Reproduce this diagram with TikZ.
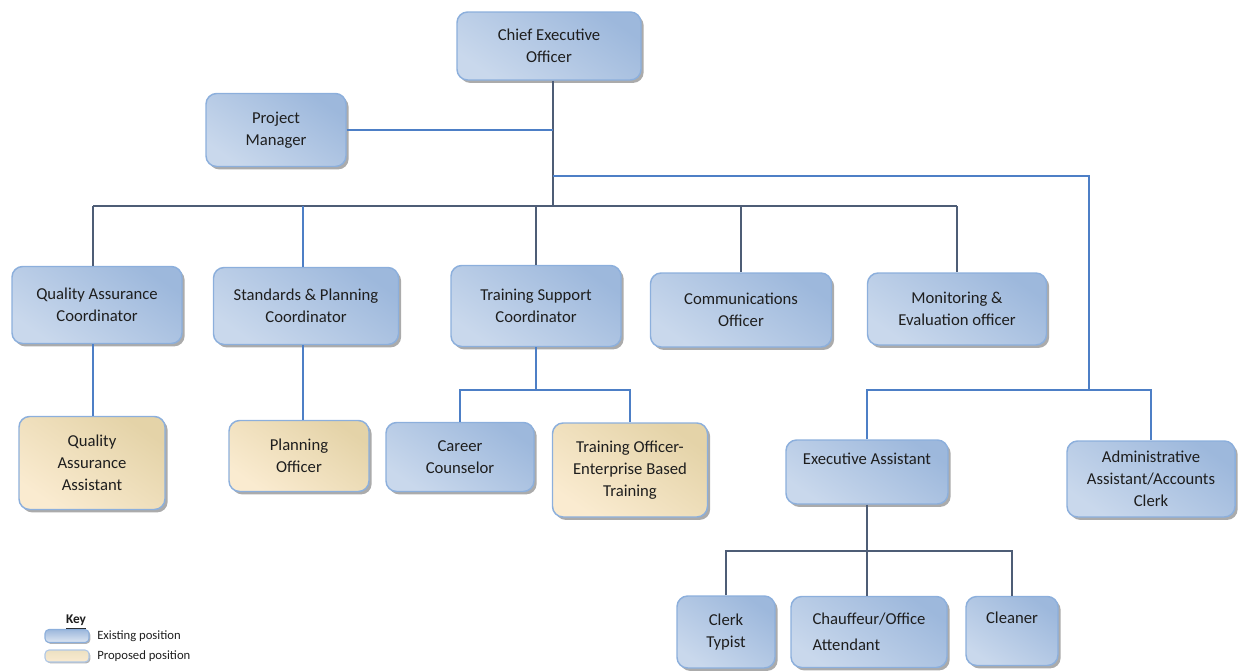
\documentclass[tikz,border=0pt]{standalone}
\usepackage{fontspec}
\setmainfont{Carlito}
\usetikzlibrary{shadows}
\definecolor{bdark}{HTML}{9DB8DC}
\definecolor{bmid}{HTML}{DDE6F2}
\definecolor{blight}{HTML}{C9D8EC}
\definecolor{bborder}{HTML}{8CAFDC}
\definecolor{ydark}{HTML}{E4D3A8}
\definecolor{ymid}{HTML}{F1E9D6}
\definecolor{ylight}{HTML}{FAEBD0}
\definecolor{lblue}{HTML}{4D7FC6}
\definecolor{ldark}{HTML}{4E5D76}
\definecolor{txt}{HTML}{1E1E1E}
\tikzset{
  sz/.style 2 args={minimum width=#1*0.75pt, minimum height=#2*0.75pt},
  posbox/.style={draw=bborder, line width=1.1pt, rounded corners=8pt, align=center,
    font=\fontsize{12.5}{16.5}\selectfont, text=txt, inner sep=1pt,
    drop shadow={shadow xshift=2pt, shadow yshift=-2.2pt, fill=black!55, opacity=0.6}},
  existing/.style={posbox, top color=bdark, middle color=bmid, bottom color=blight, shading angle=-35},
  proposed/.style={posbox, top color=ydark, middle color=ymid, bottom color=ylight, shading angle=-35},
  keyexist/.style={draw=bborder, line width=0.8pt, rounded corners=3pt, top color=bdark, bottom color=bmid,
    drop shadow={shadow xshift=1pt, shadow yshift=-1pt, fill=black!50, opacity=0.6}},
  keyprop/.style={draw=bborder!70, line width=0.8pt, rounded corners=3pt, top color=ydark!70, bottom color=ylight,
    drop shadow={shadow xshift=1pt, shadow yshift=-1pt, fill=black!50, opacity=0.6}},
  cb/.style={draw=lblue, line width=0.8pt},
  cd/.style={draw=ldark, line width=0.8pt},
  keytext/.style={font=\fontsize{9.5}{11}\selectfont, text=txt, anchor=west, inner sep=0pt}
}
\begin{document}
\begin{tikzpicture}[x=0.75pt,y=-0.75pt]
\useasboundingbox (0,0) rectangle (1238,671);

% nodes
\node[existing, sz={184}{68}] (ceo) at (549,46) {Chief Executive\\Officer};
\node[existing, sz={140}{73}] (pm) at (276,130) {Project\\Manager};

\node[existing, sz={170}{77}] (qac) at (97,305) {Quality Assurance\\Coordinator};
\node[existing, sz={185}{77}] (spc) at (306,306) {Standards \& Planning\\Coordinator};
\node[existing, sz={170}{81}] (tsc) at (536,306) {Training Support\\Coordinator};
\node[existing, sz={181}{74}] (co) at (741,310) {Communications\\Officer};
\node[existing, sz={179}{72}] (me) at (957,309) {Monitoring \&\\Evaluation officer};

\node[proposed, sz={146}{93}] (qaa) at (92,463) {Quality\\Assurance\\Assistant};
\node[proposed, sz={140}{71}] (po) at (299,456) {Planning\\Officer};
\node[existing, sz={148}{69}] (cc) at (460,457) {Career\\Counselor};
\node[proposed, sz={155}{94}] (to) at (630,470) {Training Officer-\\Enterprise Based\\Training};

\node[existing, sz={162}{64}] (ea) at (867,472) {Executive Assistant\\[-2pt]\strut};
\node[existing, sz={168}{76}] (adm) at (1151,479) {Administrative\\Assistant/Accounts\\Clerk};

\node[existing, sz={98}{72}] (ct) at (726,632) {Clerk\\Typist};
\node[existing, sz={156}{71}, align=left, font=\fontsize{12.5}{19.5}\selectfont] (chf) at (869,632) {Chauffeur/Office\\Attendant};
\node[existing, sz={92}{69}] (cl) at (1012,631) {Cleaner\\[-2pt]\strut};

% junction coordinates
\coordinate (j0) at (553,206);
\coordinate (busL) at (93,206);
\coordinate (busR) at (957,206);
\coordinate (spcx) at (303,206);
\coordinate (rb) at (553,176);
\coordinate (rc) at (1089,176);
\coordinate (rd) at (1089,390);
\coordinate (tb) at (538,390);
\coordinate (eb) at (869,551);

% connectors
\draw[cd] (j0 |- ceo.south) -- (j0);
\draw[cb] (pm.east) -- (pm.east -| j0);
\draw[cd] (busL) -- (busR);
\draw[cd] (busL) -- (busL |- qac.north);
\draw[cb] (spcx) -- (spcx |- spc.north);
\draw[cd] (tsc.north |- j0) -- (tsc.north);
\draw[cd] (co.north |- j0) -- (co.north);
\draw[cd] (busR) -- (busR |- me.north);

\draw[cb] (busL |- qac.south) -- (busL |- qaa.north);
\draw[cb] (spcx |- spc.south) -- (spcx |- po.north);

\draw[cb] (tsc.south) -- (tsc.south |- tb);
\draw[cb] (cc.north) -- (cc.north |- tb) -- (to.north |- tb) -- (to.north);

\draw[cb] (rb) -- (rc) -- (rd);
\draw[cb] (ea.north) -- (ea.north |- rd) -- (adm.north |- rd) -- (adm.north);

\draw[cd] (ea.south) -- (ea.south |- chf.north);
\draw[cd] (ct.north) -- (ct.north |- eb) -- (cl.north |- eb) -- (cl.north);

% key
\node[font=\fontsize{10}{11}\selectfont\bfseries, text=txt, inner sep=0pt] (key) at (76,622) {\underline{Key}};
\node[keyexist, sz={44}{13}, inner sep=0pt] (k1) at (67,636) {};
\node[keyprop, sz={44}{12}, inner sep=0pt] (k2) at (67,656) {};
\node[keytext] (k1t) at (97,636) {Existing position};
\node[keytext] (k2t) at (97,656) {Proposed position};
\end{tikzpicture}
\end{document}
